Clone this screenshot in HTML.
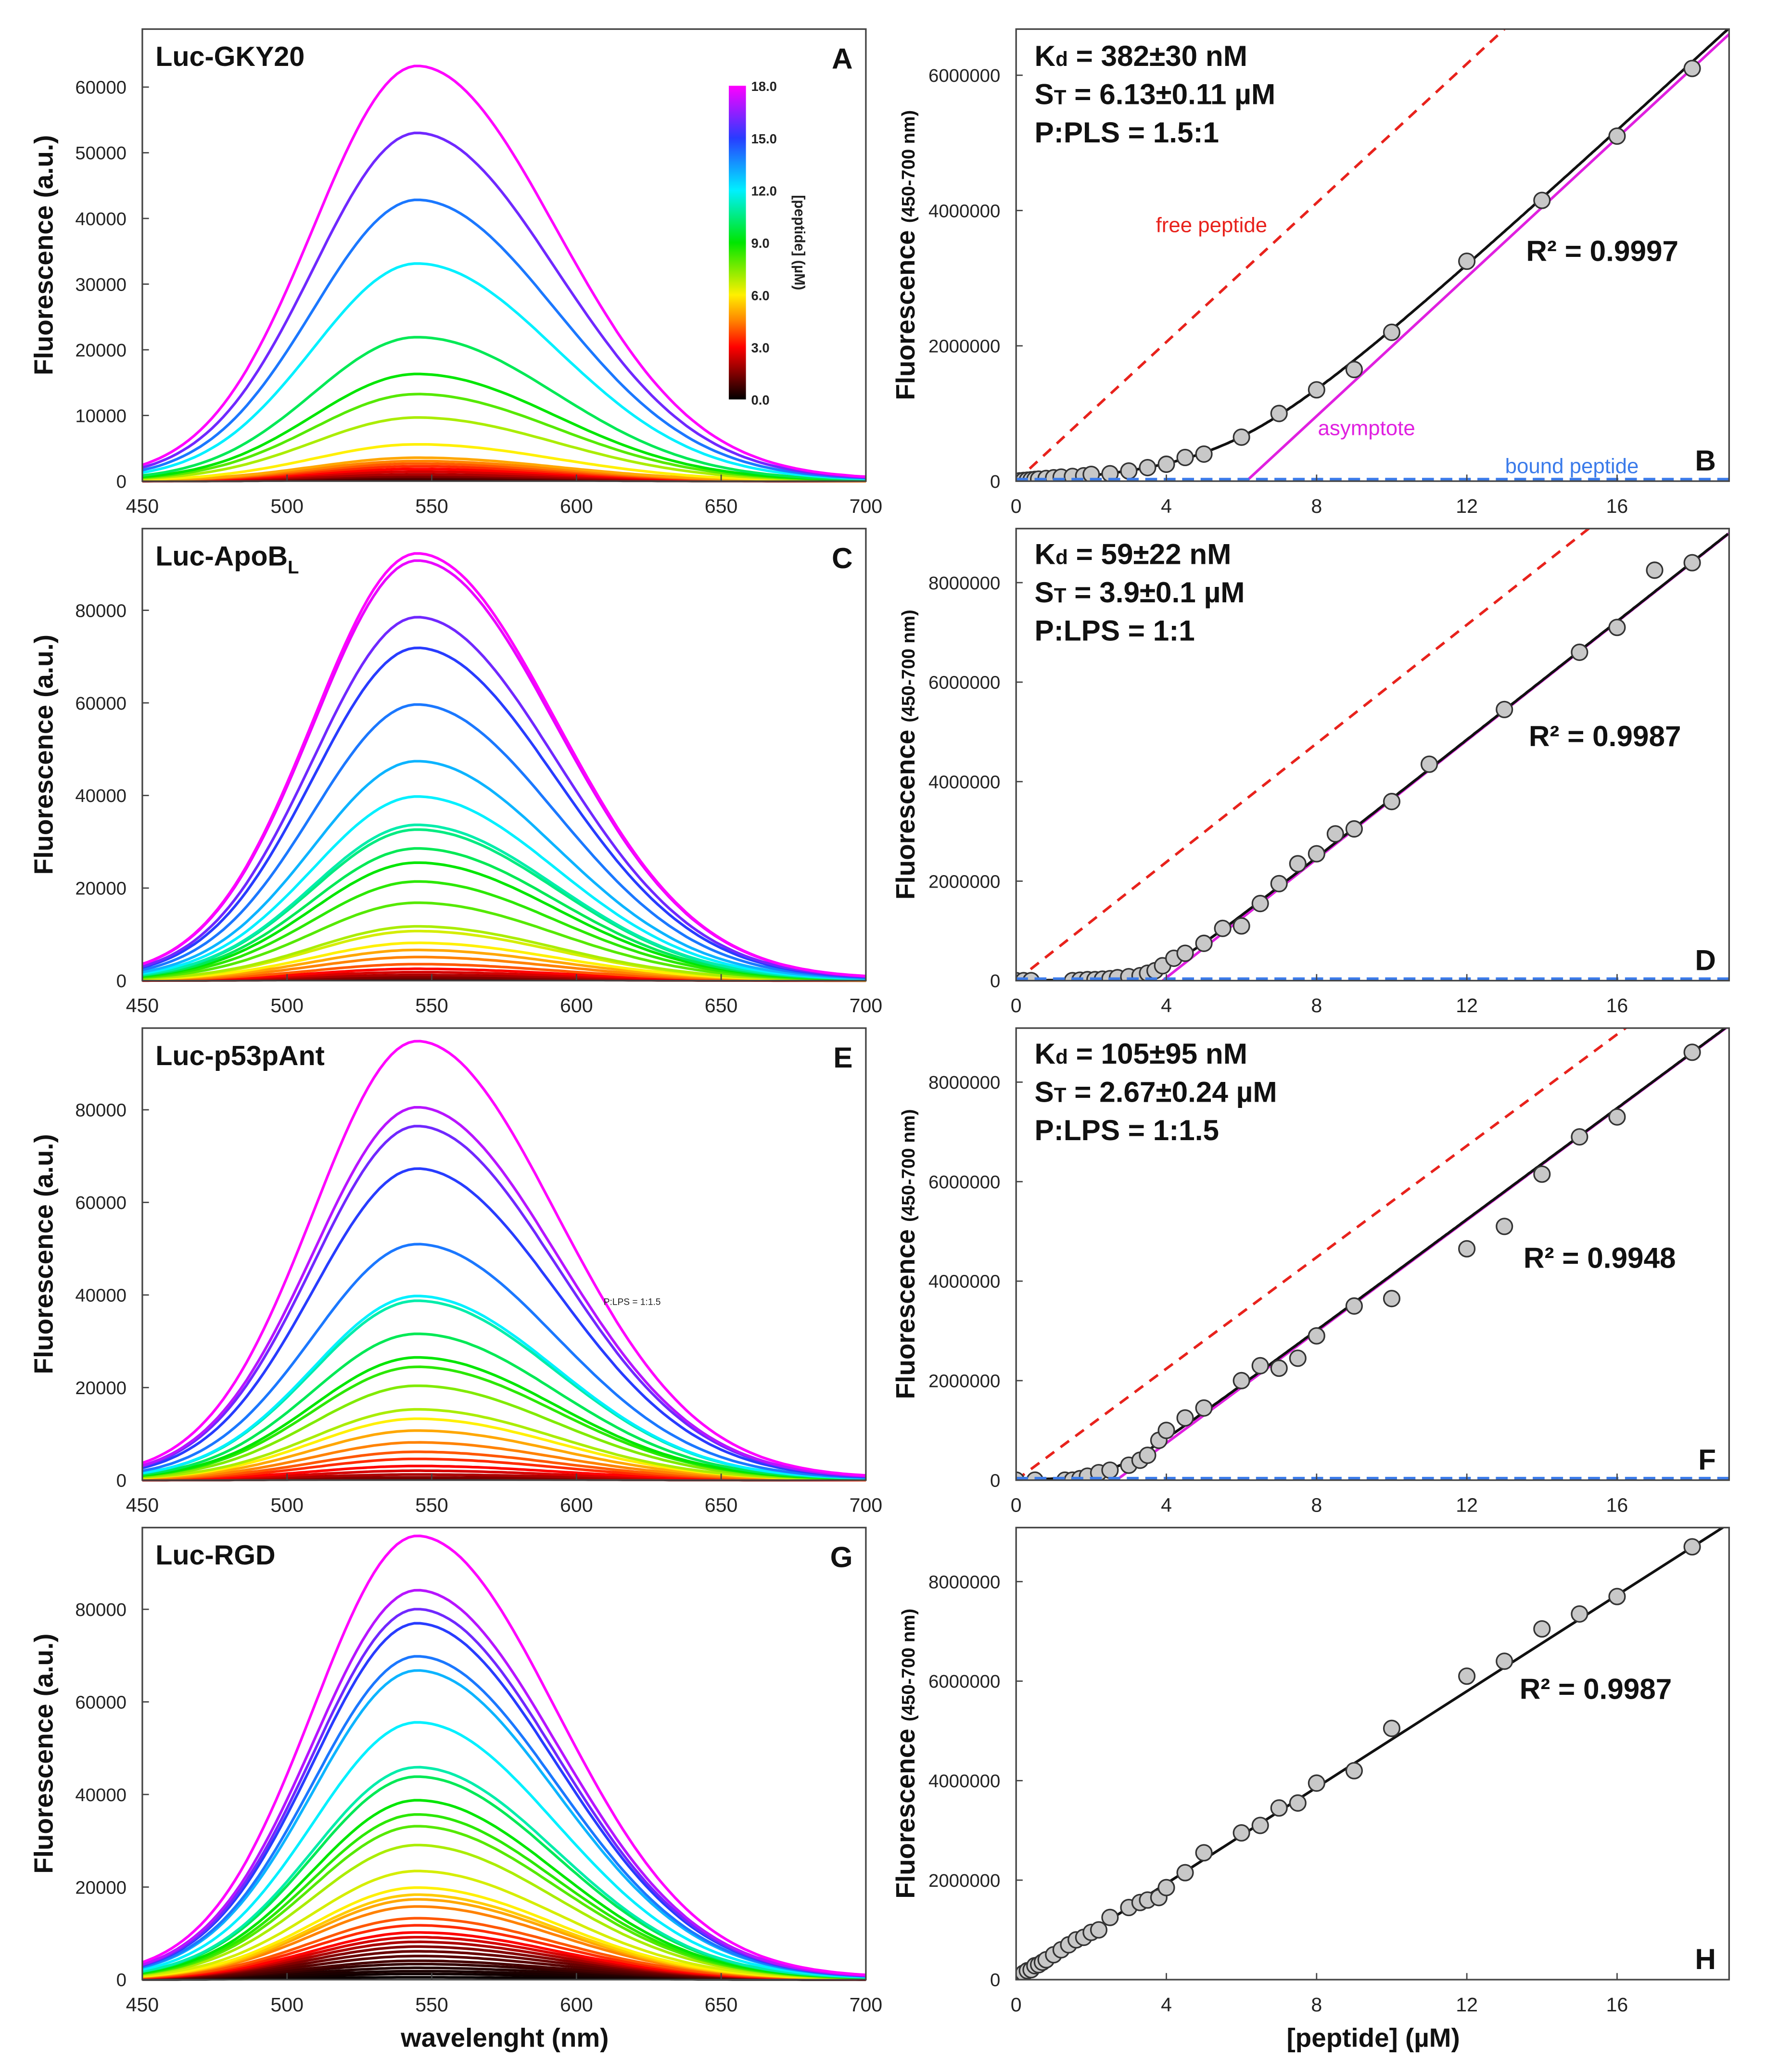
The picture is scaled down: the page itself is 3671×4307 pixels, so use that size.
<!DOCTYPE html>
<html><head><meta charset="utf-8"><style>
html,body{margin:0;padding:0;background:#fff}
svg{display:block}
text{font-family:"Liberation Sans",Arial,sans-serif}
</style></head><body>
<svg id="fig" width="3671" height="4307" viewBox="0 0 1340 1572" xmlns="http://www.w3.org/2000/svg"></svg>
<script>
// ---- spectra data (peak fluorescence, concentration µM) ----
const specA_conc=[18,16,14,12,10,9,8,7,6,5,4.5,4,3.5,3,2.5,2,1.5,1,0.5];
const specA_peak=[62000,52000,42000,32500,21500,16000,13000,9500,5500,3500,3000,2600,2200,1800,1400,1000,700,400,200];
const specC_conc=[18,17.7,16,15,14,13,12,11,10.5,10,9,8.5,8,7,6.5,6,5,4.5,4,3,2.5,2,1.5,1];
const specC_peak=[90500,89000,77000,70500,58500,46500,39000,33000,32000,28000,25000,21000,16500,11500,10500,8000,6500,5000,3500,2500,1800,1200,700,300];
const specE_conc=[18,17,16,15,14,12,11,10,9,8.5,7.5,7,6,5,4.5,4,3.5,3,2.5,2,1.5,1];
const specE_peak=[93000,79000,75000,66000,50000,39000,38000,31000,26000,24000,20000,15000,13000,10500,8000,6000,4500,3000,2000,1200,600,200];
const specG_conc=[18,17,16,15,14,13,12,11,10,9,8.5,8,7,6.5,6,5.5,5,4.5,4,3.5,3,2.5,2,1.5,1.2,1,0.8,0.6,0.4,0.3,0.2,0.1];
const specG_peak=[94000,82500,78500,75500,68500,65500,54500,45000,43000,38000,35000,32500,28500,23000,19500,18000,17000,15500,13000,11500,10000,9000,8000,7000,6000,5000,4000,3300,2500,1800,1200,500];
// ---- binding data ----
const bindB_x=[0,0.1,0.2,0.3,0.4,0.5,0.6,0.8,1,1.2,1.5,1.8,2,2.5,3,3.5,4,4.5,5,6,7,8,9,10,12,14,16,18];
const bindB_y=[0,5000,10000,15000,20000,25000,30000,40000,50000,60000,70000,80000,100000,110000,150000,200000,250000,350000,400000,650000,1000000,1350000,1650000,2200000,3250000,4150000,5100000,6100000];
const fitB=[0.382,6.13,514000];
const bindD_x=[0,0.2,0.4,1.5,1.7,1.9,2.1,2.3,2.5,2.7,3,3.3,3.5,3.7,3.9,4.2,4.5,5,5.5,6,6.5,7,7.5,8,8.5,9,10,11,13,15,16,17,18];
const bindD_y=[0,0,0,0,10000,20000,20000,30000,40000,60000,80000,100000,150000,200000,300000,450000,550000,750000,1050000,1100000,1550000,1950000,2350000,2550000,2950000,3050000,3600000,4350000,5450000,6600000,7100000,8250000,8400000];
const fitD=[0.059,3.9,596000];
const bindF_x=[0,0.5,1.3,1.5,1.7,1.9,2.2,2.5,3,3.3,3.5,3.8,4,4.5,5,6,6.5,7,7.5,8,9,10,12,13,14,15,16,18];
const bindF_y=[0,0,0,0,30000,80000,150000,200000,300000,400000,500000,800000,1000000,1250000,1450000,2000000,2300000,2250000,2450000,2900000,3500000,3650000,4650000,5100000,6150000,6900000,7300000,8600000];
const fitF=[0.105,2.67,560000];
const bindH_x=[0,0.2,0.3,0.4,0.5,0.6,0.7,0.8,1,1.2,1.4,1.6,1.8,2,2.2,2.5,3,3.3,3.5,3.8,4,4.5,5,6,6.5,7,7.5,8,9,10,12,13,14,15,16,18];
const bindH_y=[0,130000,180000,200000,280000,300000,350000,400000,500000,600000,700000,800000,850000,950000,1000000,1250000,1450000,1550000,1600000,1650000,1850000,2150000,2550000,2950000,3100000,3450000,3550000,3950000,4200000,5050000,6100000,6400000,7050000,7350000,7700000,8700000];
const slopeH=483000;
const specTicksX=[450,500,550,600,650,700];
const bindTicksX=[0,4,8,12,16];

const NS="http://www.w3.org/2000/svg";
const svg=document.getElementById('fig');
function el(tag,attrs,parent,txt){const e=document.createElementNS(NS,tag);for(const k in attrs)e.setAttribute(k,attrs[k]);if(txt!==undefined)e.textContent=txt;(parent||svg).appendChild(e);return e;}

const stops=[[0,[0,0,0]],[1.5,[130,0,0]],[3,[255,0,0]],[4.5,[255,130,0]],[6,[255,240,0]],[9,[0,230,0]],[12,[0,240,255]],[15,[40,60,255]],[18,[255,0,255]]];
function cmap(c){for(let i=0;i<stops.length-1;i++){const a=stops[i],b=stops[i+1];if(c<=b[0]){const t=(c-a[0])/(b[0]-a[0]);const r=a[1].map((v,j)=>Math.round(v+(b[1][j]-v)*t));return `rgb(${r})`;}}return 'rgb(255,0,255)';}
function shape(l){const d=l-545;const s=d<0?36:48;return Math.exp(-d*d/(2*s*s))+0.02*Math.exp(-Math.abs(d)/120);}

function spectra(name,letter,title,sub,top,bottom,y80px,ymaxVal,yticks,conc,peak){
  const g=el('g',{},svg);
  const x0=108,x1=657;
  const X=v=>x0+(v-450)/250*(x1-x0);
  const Y=v=>bottom-v/ymaxVal*(bottom-y80px);
  for(let i=conc.length-1;i>=0;i--){let d='';for(let l=450;l<=700;l+=2){d+=(l==450?'M':'L')+X(l).toFixed(1)+','+Y(peak[i]*shape(l)).toFixed(1);}
    const p=el('path',{d,fill:'none',stroke:cmap(conc[i]),'stroke-width':2},g);}
  const f=el('rect',{x:x0,y:top,width:x1-x0,height:bottom-top,fill:'none',stroke:'#444','stroke-width':1.2},g);
  yticks.forEach(v=>{el('line',{x1:x0,x2:x0+5,y1:Y(v),y2:Y(v),stroke:'#444'},g);const t=el('text',{x:x0-12,y:Y(v)+5,'text-anchor':'end','font-size':14,fill:'#222'},g,v);});
  specTicksX.forEach(v=>{el('line',{x1:X(v),x2:X(v),y1:bottom,y2:bottom-5,stroke:'#444'},g);const t=el('text',{x:X(v),y:bottom+24,'text-anchor':'middle','font-size':15,fill:'#222'},g,v);});
  const tt=el('text',{x:118,y:top+28,'font-size':21,'font-weight':'bold',fill:'#111'},g,title);
  if(sub){el('tspan',{'font-size':14,dy:6},tt,sub);}
  const lt=el('text',{x:647,y:top+30,'text-anchor':'end','font-size':22,'font-weight':'bold',fill:'#111'},g,letter);
  const ya=el('text',{transform:`translate(40,${(top+bottom)/2}) rotate(-90)`,'text-anchor':'middle','font-size':20,'font-weight':'bold',fill:'#111'},g,'Fluorescence (a.u.)');
  return g;
}
function binding(name,letter,top,bottom,y8px,ymaxVal,yticks,xs,ys,fit,lin,labels){
  const g=el('g',{},svg);
  const x0=771,x1=1312;
  const X=v=>x0+v/16*(1227-x0);
  const Y=v=>bottom-v/ymaxVal*(bottom-y8px);
  const cp=el('clipPath',{id:'c'+letter},g);el('rect',{x:x0,y:top,width:x1-x0,height:bottom-top},cp);
  const inner=el('g',{'clip-path':`url(#c${letter})`},g);
  const xmax=(x1-x0)/(1227-x0)*16;
  if(fit){const [kd,st,sl]=fit;
    const fr=el('line',{x1:X(0),y1:Y(0),x2:X(xmax),y2:Y(sl*xmax),stroke:'#e8221c','stroke-width':2,'stroke-dasharray':'8,6'},inner);
    const as=el('line',{x1:X(st),y1:Y(0),x2:X(xmax),y2:Y(sl*(xmax-st)),stroke:'#e020e0','stroke-width':2},inner);
    let d='';for(let L=0;L<=xmax;L+=0.05){const s=L+st+kd;const b=(s-Math.sqrt(s*s-4*L*st))/2;d+=(L==0?'M':'L')+X(L).toFixed(1)+','+Y(sl*(L-b)).toFixed(1);}
    const fc=el('path',{d,fill:'none',stroke:'#111','stroke-width':2},inner);
  }
  if(lin){const l=el('line',{x1:X(0),y1:Y(0),x2:X(xmax),y2:Y(lin*xmax),stroke:'#111','stroke-width':2},inner);}
  xs.forEach((x,i)=>{const c=el('circle',{cx:X(x),cy:Y(ys[i]),r:6,fill:'#c8c8c8',stroke:'#333','stroke-width':1.2},inner);});
  if(fit){const bd=el('line',{x1:X(0),y1:Y(0)-1,x2:X(xmax),y2:Y(0)-1,stroke:'#3b7bea','stroke-width':3,'stroke-dasharray':'9,5'},inner);}
  const f=el('rect',{x:x0,y:top,width:x1-x0,height:bottom-top,fill:'none',stroke:'#444','stroke-width':1.2},g);
  yticks.forEach(v=>{el('line',{x1:x0,x2:x0+5,y1:Y(v),y2:Y(v),stroke:'#444'},g);const t=el('text',{x:x0-12,y:Y(v)+5,'text-anchor':'end','font-size':14,fill:'#222'},g,v);});
  bindTicksX.forEach(v=>{el('line',{x1:X(v),x2:X(v),y1:bottom,y2:bottom-5,stroke:'#444'},g);const t=el('text',{x:X(v),y:bottom+24,'text-anchor':'middle','font-size':15,fill:'#222'},g,v);});
  const lt=el('text',{x:1302,y:bottom-8,'text-anchor':'end','font-size':22,'font-weight':'bold',fill:'#111'},g,letter);
  const ya=el('text',{transform:`translate(694,${(top+bottom)/2}) rotate(-90)`,'text-anchor':'middle','font-size':20,'font-weight':'bold',fill:'#111'},g,'Fluorescence ');
  el('tspan',{'font-size':14},ya,'(450-700 nm)');
  labels.forEach(([t,x,y,s,sub,col])=>{const e=el('text',{x,y,'font-size':s,'font-weight':col?'normal':'bold',fill:col||'#111'},g,t[0]);if(sub){el('tspan',{'font-size':s*0.7},e,sub);el('tspan',{'font-size':s},e,t[1]);}});
  return g;
}
spectra('luc-gky20','A','Luc-GKY20','',22,365,66,60000,[0,10000,20000,30000,40000,50000,60000],specA_conc,specA_peak);
spectra('luc-apob','C','Luc-ApoB','L',401,744,463,80000,[0,20000,40000,60000,80000],specC_conc,specC_peak);
spectra('luc-p53pant','E','Luc-p53pAnt','',780,1123,842,80000,[0,20000,40000,60000,80000],specE_conc,specE_peak);
spectra('luc-rgd','G','Luc-RGD','',1159,1502,1221,80000,[0,20000,40000,60000,80000],specG_conc,specG_peak);
binding('binding-b','B',22,365,57,6000000,[0,2000000,4000000,6000000],bindB_x,bindB_y,fitB,null,[
 [['K',' = 382±30 nM'],785,50,22,'d'],[['S',' = 6.13±0.11 µM'],785,79,22,'T'],[['P:PLS = 1.5:1'],785,108,22],[['R² = 0.9997'],1158,198,22],
 [['free peptide'],877,176,16,0,'#e8221c'],[['asymptote'],1000,330,16,0,'#e020e0'],[['bound peptide'],1142,359,16,0,'#3b7bea']]);
binding('binding-d','D',401,744,442,8000000,[0,2000000,4000000,6000000,8000000],bindD_x,bindD_y,fitD,null,[
 [['K',' = 59±22 nM'],785,428,22,'d'],[['S',' = 3.9±0.1 µM'],785,457,22,'T'],[['P:LPS = 1:1'],785,486,22],[['R² = 0.9987'],1160,566,22]]);
binding('binding-f','F',780,1123,821,8000000,[0,2000000,4000000,6000000,8000000],bindF_x,bindF_y,fitF,null,[
 [['K',' = 105±95 nM'],785,807,22,'d'],[['S',' = 2.67±0.24 µM'],785,836,22,'T'],[['P:LPS = 1:1.5'],785,865,22],[['R² = 0.9948'],1156,962,22]]);
binding('binding-h','H',1159,1502,1200,8000000,[0,2000000,4000000,6000000,8000000],bindH_x,bindH_y,null,slopeH,[
 [['R² = 0.9987'],1153,1289,22]]);
// colorbar
const cb=el('g',{},svg);
const lg=el('linearGradient',{id:'cbg',x1:0,y1:1,x2:0,y2:0},cb);
stops.forEach(s=>el('stop',{offset:s[0]/18,'stop-color':`rgb(${s[1]})`},lg));
el('rect',{x:553,y:65,width:13,height:238,fill:'url(#cbg)'},cb);
[0,3,6,9,12,15,18].forEach(v=>{const y=303-v/18*238;const t=el('text',{x:570,y:y+4,'font-size':10,'font-weight':'bold',fill:'#222'},cb,v.toFixed(1));});
const cbt=el('text',{transform:'translate(603,184) rotate(90)','text-anchor':'middle','font-size':11,'font-weight':'bold',fill:'#222'},cb,'[peptide] (µM)');
const sm=el('text',{x:458,y:990,'font-size':7,'font-family':'Liberation Serif',fill:'#222'},svg,'P:LPS = 1:1.5');
const xa1=el('text',{x:383,y:1553,'text-anchor':'middle','font-size':20,'font-weight':'bold',fill:'#111'},svg,'wavelenght (nm)');
const xa2=el('text',{x:1042,y:1553,'text-anchor':'middle','font-size':20,'font-weight':'bold',fill:'#111'},svg,'[peptide] (µM)');
</script>
</body></html>
